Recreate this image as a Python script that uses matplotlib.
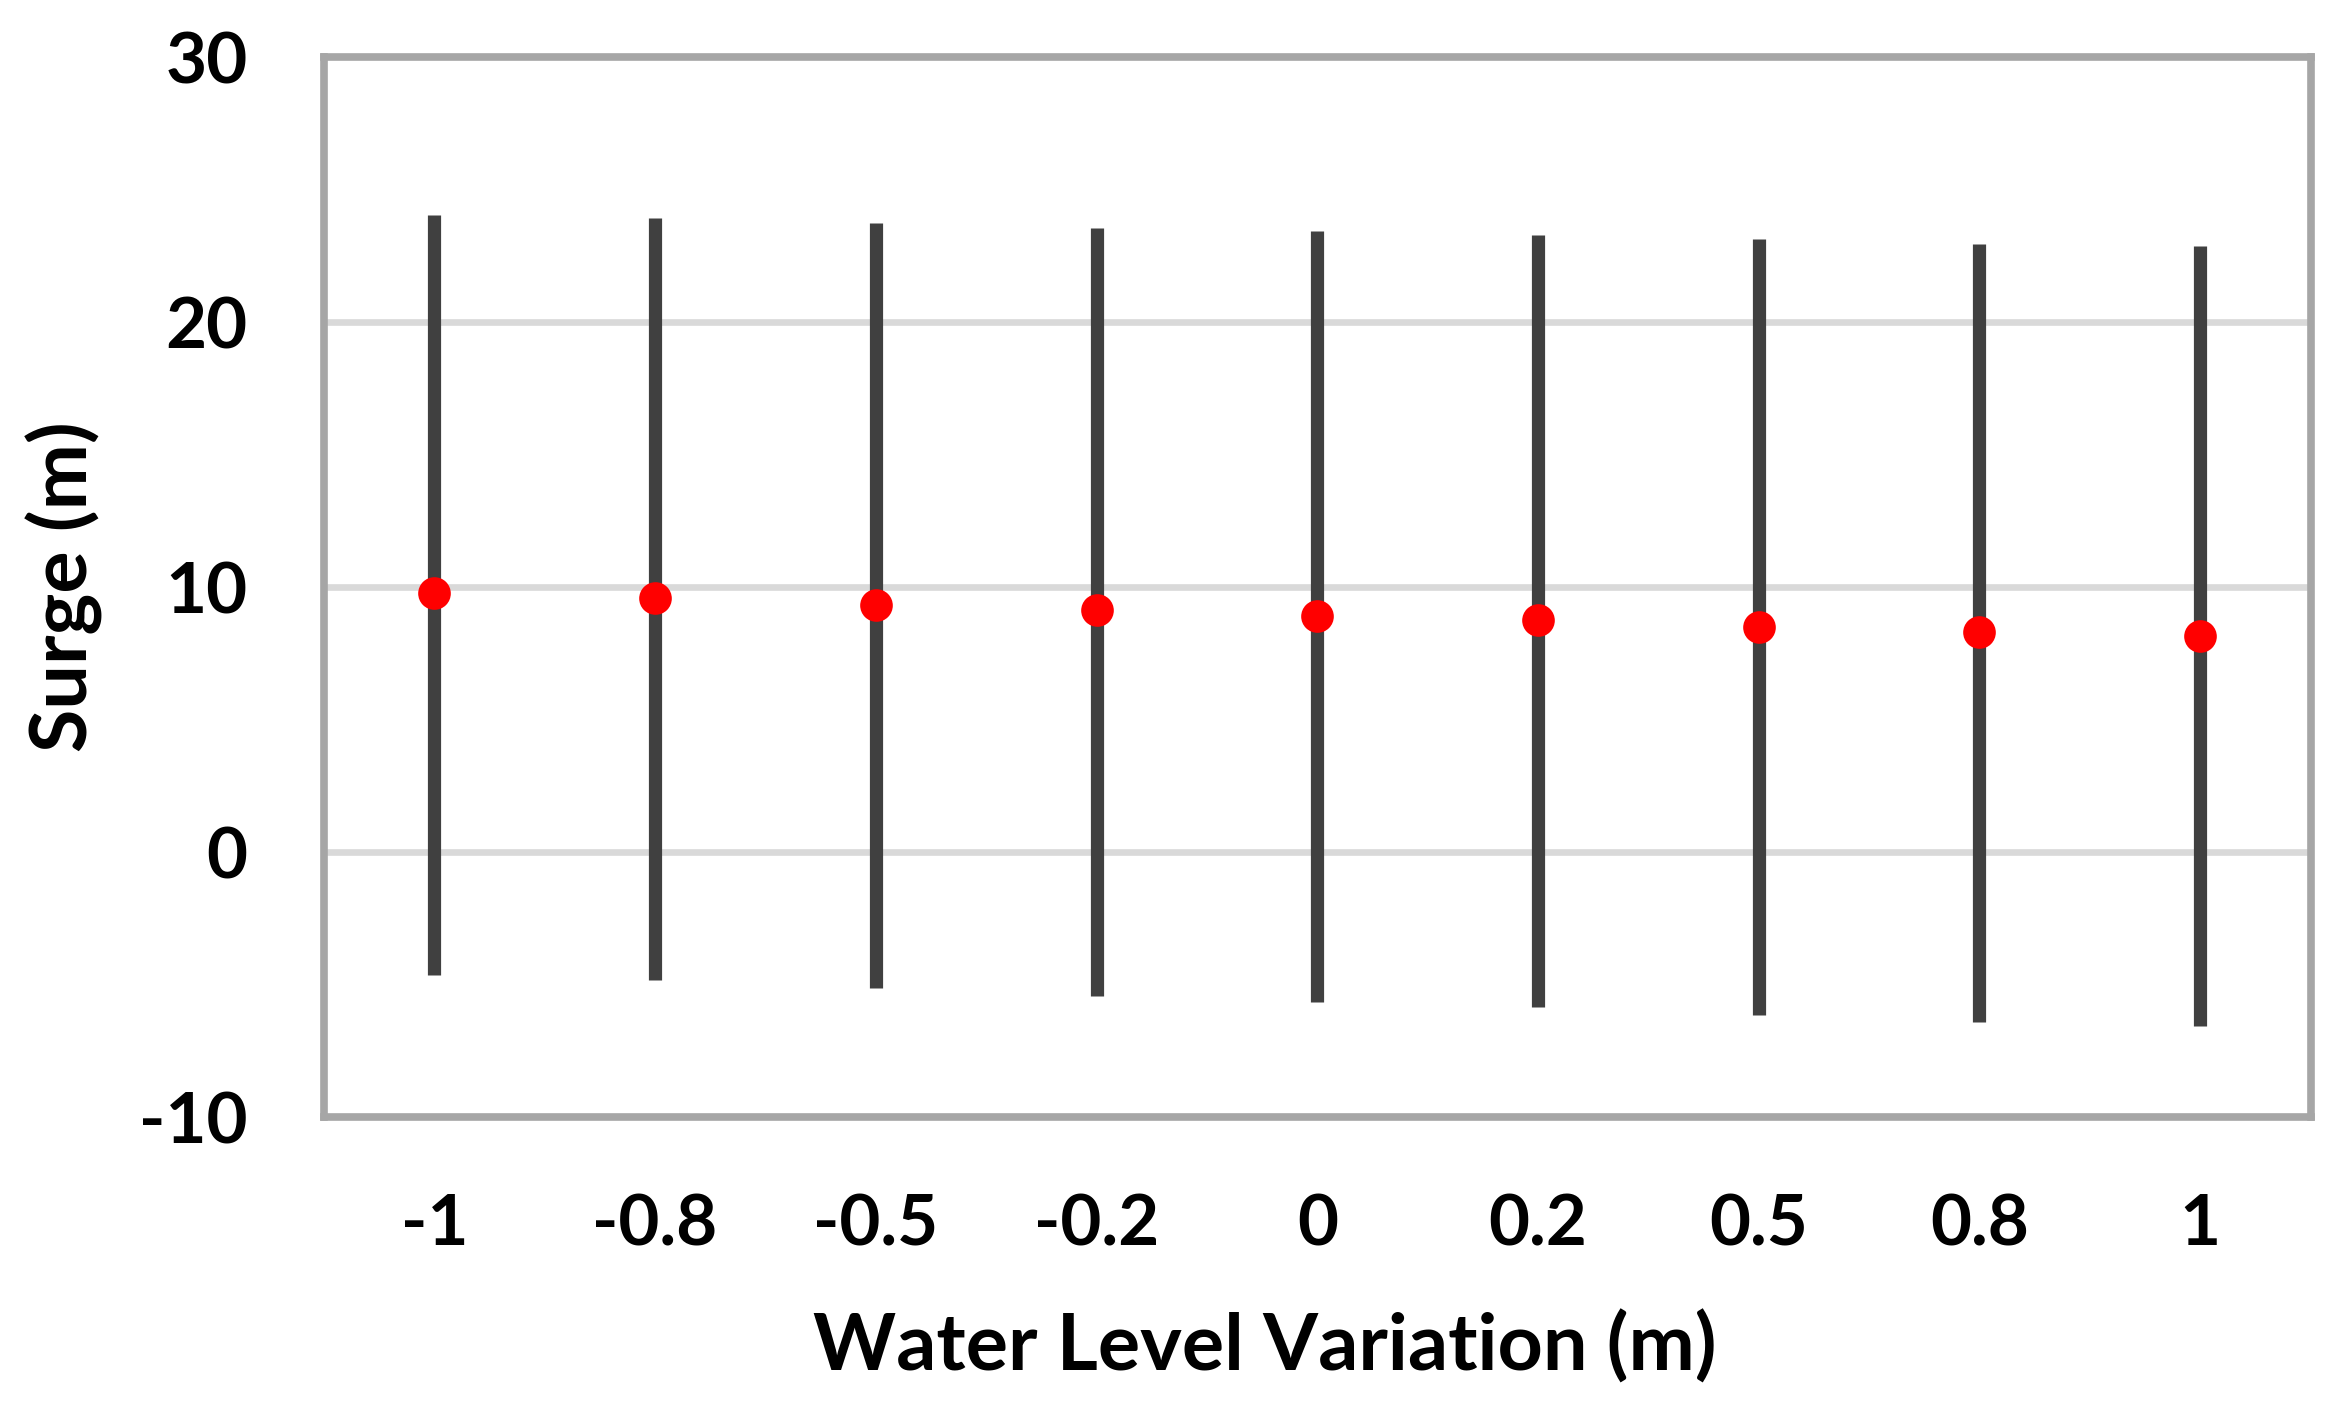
import matplotlib
matplotlib.use("Agg")
import matplotlib.pyplot as plt

categories = ["-1", "-0.8", "-0.5", "-0.2", "0", "0.2", "0.5", "0.8", "1"]
surge_max = [24.05, 23.93, 23.74, 23.55, 23.43, 23.28, 23.13, 22.94, 22.86]
surge_min = [-4.63, -4.82, -5.12, -5.42, -5.65, -5.84, -6.14, -6.40, -6.55]
surge_mean = [9.76, 9.60, 9.34, 9.12, 8.92, 8.76, 8.50, 8.31, 8.16]
y_ticks = [-10, 0, 10, 20, 30]

plt.rcParams['font.family'] = ['Lato', 'DejaVu Sans']
plt.rcParams['font.weight'] = 'bold'

fig = plt.figure(figsize=(23.41, 14.2), dpi=100)
ax = fig.add_axes([0.1384, 0.2132, 0.9870 - 0.1384, 0.9599 - 0.2132])

x = list(range(len(categories)))
ax.vlines(x, surge_min, surge_max, colors="#404040", linewidth=9.5, zorder=3)
ax.plot(x, surge_mean, linestyle="none", marker="o", markersize=23.5,
        color="#FF0000", markeredgewidth=0, zorder=4)

ax.set_xlim(-0.5, len(categories) - 0.5)
ax.set_ylim(-10, 30)
ax.set_yticks(y_ticks)
ax.set_yticklabels([str(t) for t in y_ticks])
ax.set_xticks(x)
ax.set_xticklabels(categories)

for t in y_ticks[1:-1]:
    ax.axhline(t, color="#D9D9D9", linewidth=4.8, zorder=1)

for s in ax.spines.values():
    s.set_color("#A6A6A6")
    s.set_linewidth(5.5)

ax.tick_params(axis='both', length=0, labelsize=51)
ax.tick_params(axis='y', pad=55)
ax.tick_params(axis='x', pad=54)
for lab in ax.get_xticklabels() + ax.get_yticklabels():
    lab.set_fontweight('bold')

ax.set_xlabel("Water Level Variation (m)", fontsize=57, fontweight='bold', labelpad=38)
ax.xaxis.label.set_x(0.4737)
ax.set_ylabel("Surge (m)", fontsize=57, fontweight='bold', labelpad=26)

fig.savefig("out.png", dpi=100, facecolor="white")
